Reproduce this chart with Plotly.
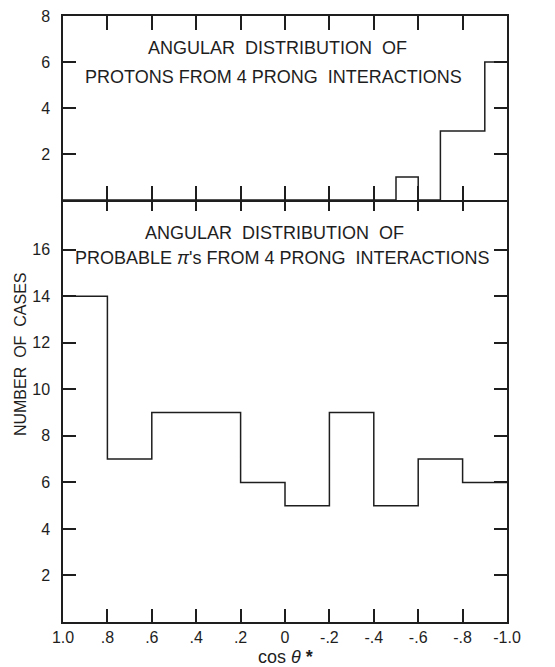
import plotly.graph_objects as go

# ---- data ----
proton_edges = [1.0, 0.9, 0.8, 0.7, 0.6, 0.5, 0.4, 0.3, 0.2, 0.1, 0.0,
                -0.1, -0.2, -0.3, -0.4, -0.5, -0.6, -0.7, -0.8, -0.9, -1.0]
proton_counts = [0, 0, 0, 0, 0, 0, 0, 0, 0, 0,
                 0, 0, 0, 0, 0, 1, 0, 3, 3, 6]

pion_edges = [1.0, 0.8, 0.6, 0.4, 0.2, 0.0, -0.2, -0.4, -0.6, -0.8, -1.0]
pion_counts = [14, 7, 9, 9, 6, 5, 9, 5, 7, 6]

x_tickvals = [1.0, 0.8, 0.6, 0.4, 0.2, 0.0, -0.2, -0.4, -0.6, -0.8, -1.0]
x_ticktext = ["1.0", ".8", ".6", ".4", ".2", "0", "-.2", "-.4", "-.6", "-.8", "-1.0"]
top_y_tickvals = [2, 4, 6, 8]
bottom_y_tickvals = [2, 4, 6, 8, 10, 12, 14, 16]

INK = "#1e1e1e"
FONT = "Liberation Sans"
PLOT_H = 606
SPLIT_TOP = 422 / PLOT_H
SPLIT_BOT = 423.5 / PLOT_H

fig = go.Figure()
fig.add_trace(go.Scatter(
    x=proton_edges, y=proton_counts + [proton_counts[-1]],
    mode="lines", line=dict(shape="hv", color=INK, width=1.5),
    xaxis="x2", yaxis="y2", showlegend=False, hoverinfo="skip"))
fig.add_trace(go.Scatter(
    x=pion_edges, y=pion_counts + [pion_counts[-1]],
    mode="lines", line=dict(shape="hv", color=INK, width=1.5),
    xaxis="x", yaxis="y", showlegend=False, hoverinfo="skip"))

axis_common = dict(showline=True, linecolor=INK, linewidth=1.5, mirror="ticks",
                   ticks="inside", tickcolor=INK, tickwidth=1.5,
                   showgrid=False, zeroline=False, automargin=False,
                   ticklabeloverflow="allow",
                   tickfont=dict(family=FONT, size=16, color=INK))

fig.update_layout(
    width=547, height=659,
    margin=dict(l=55, r=48, t=8, b=45),
    paper_bgcolor="white", plot_bgcolor="white",
    font=dict(family=FONT, color=INK),
    xaxis=dict(domain=[0, 1], anchor="y", range=[1.0, -1.0],
               tickvals=x_tickvals, ticktext=x_ticktext, ticklen=13,
               **axis_common),
    xaxis2=dict(domain=[0, 1], anchor="y2", matches="x", range=[1.0, -1.0],
                tickvals=x_tickvals, showticklabels=False, ticklen=14,
                **axis_common),
    yaxis=dict(domain=[0, SPLIT_BOT], anchor="x", range=[0, 18.2],
               tickvals=bottom_y_tickvals, ticklen=13, ticklabelstandoff=8,
               **axis_common),
    yaxis2=dict(domain=[SPLIT_TOP, 1], anchor="x2", range=[0, 8],
                tickvals=top_y_tickvals, ticklen=13, ticklabelstandoff=8,
                **axis_common),
)

ann_font = dict(family=FONT, size=18, color=INK)
annotations = [
    dict(text="ANGULAR  DISTRIBUTION  OF", x=0.484, y=0.948),
    dict(text="PROTONS FROM 4 PRONG  INTERACTIONS", x=0.475, y=0.900),
    dict(text="ANGULAR  DISTRIBUTION  OF", x=0.477, y=0.642),
    dict(text="PROBABLE <i>π</i>'s FROM 4 PRONG  INTERACTIONS", x=0.494, y=0.601),
]
for a in annotations:
    fig.add_annotation(xref="paper", yref="paper", showarrow=False,
                       xanchor="center", yanchor="middle", font=ann_font, **a)

fig.add_annotation(text="NUMBER  OF  CASES", xref="paper", yref="paper",
                   x=-0.097, y=0.442, textangle=-90, showarrow=False,
                   xanchor="center", yanchor="middle",
                   font=dict(family=FONT, size=16, color=INK))
fig.add_annotation(text="cos <i>θ</i> <b>*</b>", xref="paper", yref="paper",
                   x=0.50, y=-0.058, showarrow=False,
                   xanchor="center", yanchor="middle",
                   font=dict(family=FONT, size=18, color=INK))

fig.write_html("out.html")
